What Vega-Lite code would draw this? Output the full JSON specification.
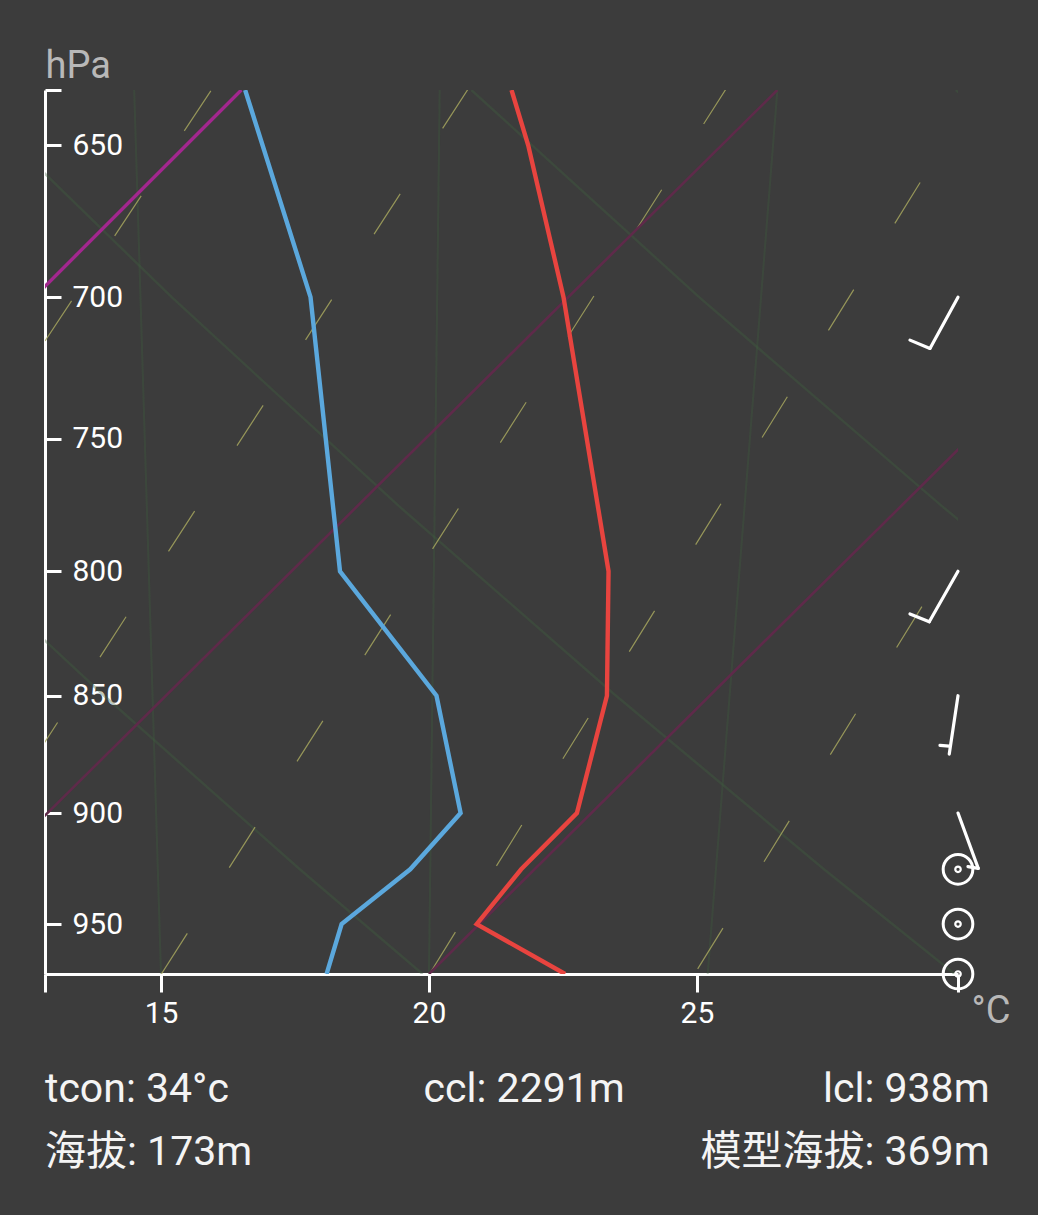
{
  "$schema": "https://vega.github.io/schema/vega-lite/v6.json",
  "width": 913,
  "height": 884,
  "autosize": {"type": "none"},
  "padding": {"left": 45, "top": 90, "right": 80, "bottom": 241},
  "background": "#3c3c3c",
  "config": {
    "view": {"stroke": null},
    "font": "Roboto"
  },
  "datasets": {
    "moist": [
      {"id": "m1", "t": 15.0, "p": 973.4}, {"id": "m1", "t": 14.5, "p": 632.8},
      {"id": "m2", "t": 20.0, "p": 973.4}, {"id": "m2", "t": 20.2, "p": 632.8},
      {"id": "m3", "t": 25.2, "p": 973.4}, {"id": "m3", "t": 26.5, "p": 632.8}
    ],
    "dry": [
      {"id": "d1", "t": 2.45, "p": 632.8}, {"id": "d1", "t": 6.17, "p": 700}, {"id": "d1", "t": 10.14, "p": 775}, {"id": "d1", "t": 13.94, "p": 850}, {"id": "d1", "t": 17.59, "p": 925}, {"id": "d1", "t": 19.88, "p": 973.4},
      {"id": "d2", "t": 11.23, "p": 632.8}, {"id": "d2", "t": 15.2, "p": 700}, {"id": "d2", "t": 19.44, "p": 775}, {"id": "d2", "t": 23.49, "p": 850}, {"id": "d2", "t": 27.37, "p": 925}, {"id": "d2", "t": 29.81, "p": 973.4},
      {"id": "d3", "t": 20.79, "p": 632.8}, {"id": "d3", "t": 25.04, "p": 700}, {"id": "d3", "t": 29.57, "p": 775}, {"id": "d3", "t": 33.89, "p": 850},
      {"id": "d4", "t": 29.83, "p": 632.8}, {"id": "d4", "t": 34.13, "p": 700}
    ],
    "mixr": [
      {"id": "w1", "t": 8.94, "p": 833.7}, {"id": "w1", "t": 16.806, "p": 611.6},
      {"id": "w2", "t": 8.748, "p": 1025.0}, {"id": "w2", "t": 21.564, "p": 611.6},
      {"id": "w3", "t": 13.745, "p": 1025.0}, {"id": "w3", "t": 26.362, "p": 611.6},
      {"id": "w4", "t": 18.782, "p": 1025.0}, {"id": "w4", "t": 31.043, "p": 611.6},
      {"id": "w5", "t": 23.776, "p": 1023.0}, {"id": "w5", "t": 35.97, "p": 611.6}
    ],
    "isoZero": [
      {"t": 0, "p": 973.4}, {"t": 16.5, "p": 632.8}
    ],
    "iso": [
      {"id": "i10", "t": 9.85, "p": 973.4}, {"id": "i10", "t": 26.5, "p": 632.8},
      {"id": "i20", "t": 20, "p": 973.4}, {"id": "i20", "t": 36.64, "p": 632.8}
    ],
    "temperature": [
      {"t": 21.54, "p": 632.8},
      {"t": 21.85, "p": 650},
      {"t": 22.51, "p": 700},
      {"t": 23.35, "p": 800},
      {"t": 23.32, "p": 850},
      {"t": 22.76, "p": 900},
      {"t": 21.72, "p": 925},
      {"t": 20.89, "p": 950},
      {"t": 22.54, "p": 973.4}
    ],
    "dewpoint": [
      {"t": 16.57, "p": 632.8},
      {"t": 17.79, "p": 700},
      {"t": 18.34, "p": 800},
      {"t": 20.14, "p": 850},
      {"t": 20.59, "p": 900},
      {"t": 19.65, "p": 925},
      {"t": 18.37, "p": 950},
      {"t": 18.09, "p": 973.4}
    ],
    "barbs": [
      {"t": 29.87, "p": 700, "t2": 29.347, "p2": 717.7},
      {"t": 29.347, "p": 717.7, "t2": 28.974, "p2": 714.8},
      {"t": 29.87, "p": 800, "t2": 29.334, "p2": 819.9},
      {"t": 29.334, "p": 819.9, "t2": 28.974, "p2": 816.8},
      {"t": 29.87, "p": 850, "t2": 29.707, "p2": 874.5},
      {"t": 29.707, "p": 871.1, "t2": 29.534, "p2": 870.8},
      {"t": 29.87, "p": 900, "t2": 30.248, "p2": 924.6},
      {"t": 30.248, "p": 924.6, "t2": 30.056, "p2": 923.8}
    ],
    "calm": [
      {"t": 29.87, "p": 925},
      {"t": 29.87, "p": 950},
      {"t": 29.87, "p": 973.4}
    ],
    "notesLeft": [
      {"label": "tcon: 34°c", "t": 12.836, "p": 1036.1},
      {"label": "ccl: 2291m", "t": 19.9, "p": 1036.1},
      {"label": "海拔: 173m", "t": 12.836, "p": 1068.4}
    ],
    "notesRight": [
      {"label": "lcl: 938m", "t": 30.46, "p": 1036.1},
      {"label": "模型海拔: 369m", "t": 30.46, "p": 1068.4}
    ]
  },
  "encoding": {
    "x": {
      "field": "t",
      "type": "quantitative",
      "scale": {"domain": [12.836, 29.87], "nice": false, "zero": false},
      "axis": {
        "title": "°C",
        "values": [12.836, 15, 20, 25, 29.87],
        "format": "d",
        "labelExpr": "(datum.value == 15 || datum.value == 20 || datum.value == 25) ? datum.label : ''",
        "grid": false,
        "domainColor": "#ffffff",
        "domainWidth": 3,
        "tickColor": "#ffffff",
        "tickWidth": 3,
        "tickSize": 18,
        "labelColor": "#ffffff",
        "labelFont": "Roboto",
        "labelFontSize": 30,
        "labelPadding": 6,
        "labelBaseline": "top",
        "labelFlush": false,
        "labelOverlap": false,
        "titleColor": "#b8b8b8",
        "titleFont": "Roboto",
        "titleFontSize": 38,
        "titleFontWeight": "normal",
        "titleAngle": 0,
        "titleAlign": "left",
        "titleBaseline": "alphabetic",
        "titleX": 926,
        "titleY": 48
      }
    },
    "y": {
      "field": "p",
      "type": "quantitative",
      "scale": {"type": "log", "domain": [632.8, 973.4], "reverse": true, "nice": false},
      "axis": {
        "title": "hPa",
        "values": [632.8, 650, 700, 750, 800, 850, 900, 950],
        "format": "d",
        "labelExpr": "datum.value < 640 ? '' : datum.label",
        "grid": false,
        "domainColor": "#ffffff",
        "domainWidth": 3,
        "tickColor": "#ffffff",
        "tickWidth": 3,
        "tickSize": -16,
        "labelPadding": -11,
        "labelAlign": "left",
        "labelBaseline": "middle",
        "labelColor": "#ffffff",
        "labelFont": "Roboto",
        "labelFontSize": 30,
        "labelFlush": false,
        "labelOverlap": false,
        "titleColor": "#b8b8b8",
        "titleFont": "Roboto",
        "titleFontSize": 38,
        "titleFontWeight": "normal",
        "titleAngle": 0,
        "titleAlign": "left",
        "titleBaseline": "alphabetic",
        "titleX": 0,
        "titleY": -13
      }
    }
  },
  "layer": [
    {
      "data": {"name": "moist"},
      "mark": {"type": "line", "clip": true, "color": "#3f623f", "strokeWidth": 2, "opacity": 0.3},
      "encoding": {
        "detail": {"field": "id"},
        "order": {"field": "p", "type": "quantitative", "sort": "descending"}
      }
    },
    {
      "data": {"name": "dry"},
      "mark": {"type": "line", "clip": true, "color": "#3f623f", "strokeWidth": 2.5, "opacity": 0.35},
      "encoding": {
        "detail": {"field": "id"},
        "order": {"field": "p", "type": "quantitative", "sort": "descending"}
      }
    },
    {
      "data": {"name": "mixr"},
      "mark": {"type": "line", "clip": true, "color": "#a6a65e", "strokeWidth": 1.2, "strokeDash": [48, 78], "strokeCap": "butt", "opacity": 0.85},
      "encoding": {
        "detail": {"field": "id"},
        "order": {"field": "p", "type": "quantitative", "sort": "descending"}
      }
    },
    {
      "data": {"name": "iso"},
      "mark": {"type": "line", "clip": true, "color": "#5f2a4a", "strokeWidth": 2.6},
      "encoding": {
        "detail": {"field": "id"},
        "order": {"field": "p", "type": "quantitative", "sort": "descending"}
      }
    },
    {
      "data": {"name": "isoZero"},
      "mark": {"type": "line", "clip": true, "color": "#a3278f", "strokeWidth": 3.4},
      "encoding": {
        "order": {"field": "p", "type": "quantitative", "sort": "descending"}
      }
    },
    {
      "data": {"name": "dewpoint"},
      "mark": {"type": "line", "clip": true, "color": "#5ba8dd", "strokeWidth": 4.4},
      "encoding": {
        "order": {"field": "p", "type": "quantitative", "sort": "descending"}
      }
    },
    {
      "data": {"name": "temperature"},
      "mark": {"type": "line", "clip": true, "color": "#e8443f", "strokeWidth": 4.4},
      "encoding": {
        "order": {"field": "p", "type": "quantitative", "sort": "descending"}
      }
    },
    {
      "data": {"name": "barbs"},
      "mark": {"type": "rule", "color": "#ffffff", "strokeWidth": 3.2, "strokeCap": "round"},
      "encoding": {
        "x2": {"field": "t2"},
        "y2": {"field": "p2"}
      }
    },
    {
      "data": {"name": "calm"},
      "mark": {"type": "point", "shape": "circle", "filled": false, "color": "#ffffff", "strokeWidth": 3, "size": 880, "opacity": 1}
    },
    {
      "data": {"name": "calm"},
      "mark": {"type": "point", "shape": "circle", "filled": false, "color": "#ffffff", "strokeWidth": 2.2, "size": 30, "opacity": 1}
    },
    {
      "data": {"name": "notesLeft"},
      "mark": {"type": "text", "align": "left", "baseline": "alphabetic", "fontSize": 41, "font": "Roboto, Noto Sans CJK SC", "color": "#f4f4f4"},
      "encoding": {"text": {"field": "label"}}
    },
    {
      "data": {"name": "notesRight"},
      "mark": {"type": "text", "align": "right", "baseline": "alphabetic", "fontSize": 41, "font": "Roboto, Noto Sans CJK SC", "color": "#f4f4f4"},
      "encoding": {"text": {"field": "label"}}
    }
  ]
}
